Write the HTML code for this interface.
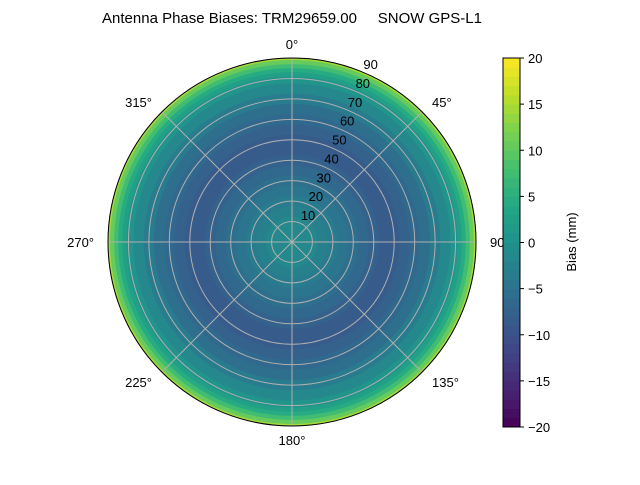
<!DOCTYPE html>
<html><head><meta charset="utf-8"><style>
body{margin:0;background:#fff}
svg text{font-family:"Liberation Sans","DejaVu Sans",sans-serif;font-size:13px;fill:#000;white-space:pre}
</style></head><body>
<svg id="c" width="640" height="480" viewBox="0 0 640 480">
<text x="292" y="23" text-anchor="middle" style="font-size:15px" xml:space="preserve">Antenna Phase Biases: TRM29659.00     SNOW GPS-L1</text>
<g id="rings"></g><g id="grid"></g><g id="labels"></g><g id="cbar"></g>
</svg>
<script>
const zenithAngles=[0,5,10,15,20,25,30,35,40,45,50,55,60,65,70,75,80,82,84,86,88,90];
const biasValues=[-1,-1.5,-2,-3,-4,-5,-6,-7,-8,-8.5,-8.5,-8,-7,-5.5,-4,-2,0.5,2.5,4.5,7,10,14];
const radialTicks=[10,20,30,40,50,60,70,80,90];
const azimuthTicks=[0,45,90,135,180,225,270,315];
const cbarTicks=[-20,-15,-10,-5,0,5,10,15,20];
const vmin=-20,vmax=20,levels=40;
const V=[[68,1,84],[72,36,117],[65,68,135],[53,95,141],[42,120,142],[33,145,140],[34,168,132],[68,191,112],[122,209,81],[189,223,38],[253,231,37]];
function viridis(t){t=Math.max(0,Math.min(1,t));const f=t*10,i=Math.min(9,Math.floor(f)),u=f-i;const c=V[i].map((a,k)=>Math.round(a+(V[i+1][k]-a)*u));return `rgb(${c})`;}
function lvl(v){const s=(vmax-vmin)/levels;const k=Math.floor((v-vmin)/s);return viridis((k+0.5)/levels);}
const cx=292,cy=242,R=184;
const rs=z=>z/90*R;
const NS='http://www.w3.org/2000/svg';
function mk(t,a,p){const e=document.createElementNS(NS,t);for(const k in a)e.setAttribute(k,a[k]);(p||document.getElementById('c')).appendChild(e);return e;}
const rings=document.getElementById('rings');
for(let i=zenithAngles.length-1;i>=0;i--){
  const z=i===zenithAngles.length-1?zenithAngles[i]:(zenithAngles[i]+zenithAngles[i+1])/2;
  const el=mk('circle',{cx,cy,r:rs(z),fill:lvl(biasValues[i])},rings);
  
  
}
const grid=document.getElementById('grid');
radialTicks.forEach(t=>{const el=mk('circle',{cx,cy,r:rs(t),fill:'none',stroke:'#b0b0b0','stroke-width':1},grid);

});
azimuthTicks.forEach(a=>{const r=a*Math.PI/180;const el=mk('line',{x1:cx,y1:cy,x2:cx+R*Math.sin(r),y2:cy-R*Math.cos(r),stroke:'#b0b0b0','stroke-width':1},grid);

});
const outline=mk('circle',{cx,cy,r:R,fill:'none',stroke:'#000','stroke-width':1},grid);


const lab=document.getElementById('labels');
azimuthTicks.forEach(a=>{const r=a*Math.PI/180;const d=R+14;const x=cx+d*Math.sin(r),y=cy-d*Math.cos(r)+5;
const el=mk('text',{x,y,'text-anchor':a===0||a===180?'middle':(a<180?'start':'end')},lab);
if(a===90||a===270){el.setAttribute('text-anchor',a===90?'start':'end');}
el.textContent=a+'°';

});
radialTicks.forEach(t=>{const r=22.5*Math.PI/180;const d=rs(t);const el=mk('text',{x:cx+d*Math.sin(r)+1,y:cy-d*Math.cos(r)-3,'text-anchor':'start'},lab);
el.textContent=t;

});
const cb=document.getElementById('cbar');const bx=503,bw=17,by=58,bh=369;
const cy2=v=>by+bh*(vmax-v)/(vmax-vmin);
for(let k=0;k<levels;k++){const v0=vmin+k*(vmax-vmin)/levels,v1=v0+(vmax-vmin)/levels;
const el=mk('rect',{x:bx,y:cy2(v1),width:bw,height:cy2(v0)-cy2(v1)+0.5,fill:viridis((k+0.5)/levels)},cb);

}
const fr=mk('rect',{x:bx,y:by,width:bw,height:bh,fill:'none',stroke:'#000','stroke-width':1},cb);


cbarTicks.forEach(v=>{const y=cy2(v);mk('line',{x1:bx+bw,x2:bx+bw+4,y1:y,y2:y,stroke:'#000'},cb);
const el=mk('text',{x:bx+bw+8,y:y+5},cb);el.textContent=String(v).replace('-','\u2212');

});
const tl=mk('text',{x:0,y:0,transform:'translate(576,242) rotate(-90)','text-anchor':'middle'},cb);
tl.textContent='Bias (mm)';


</script>
</body></html>
